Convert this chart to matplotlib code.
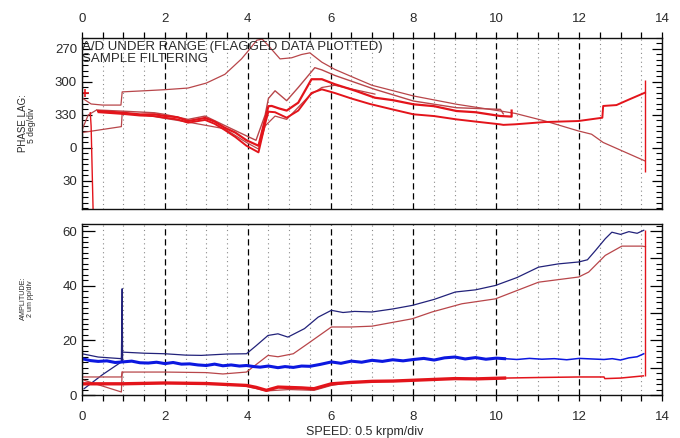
import matplotlib
matplotlib.use("Agg")
import matplotlib.pyplot as plt
from matplotlib.ticker import MultipleLocator, FixedLocator

plt.rcParams['font.family'] = ['Liberation Sans', 'DejaVu Sans']

# ---------------- phase lag (deg, continuous; 360 shown as 0) ----------------
up_speed = [0.02, 0.22, 0.5, 0.94, 0.97, 1.5, 2.0, 2.56, 3.0, 3.45, 3.85, 4.05, 4.22,
            4.35, 4.5, 4.78, 5.06, 5.3, 5.5, 5.79, 6.1, 6.5, 7.0, 8.0, 9.05, 10.1,
            10.45, 11.18, 11.98, 12.3, 12.58, 13.0, 13.59]
up_phase = [315, 320, 321, 321, 309, 308, 307, 305.5, 301, 293, 279, 270, 262,
            261, 267, 279, 278, 275, 273.5, 282, 288.5, 295, 303, 312.7, 320.3, 326.4,
            328.5, 335.5, 344.5, 347.5, 355, 362, 371.8]

ctop_speed = [0.36, 0.97, 1.75, 2.0, 2.56, 2.97, 3.44, 3.97, 4.2, 4.42, 4.5, 4.66, 4.94,
              5.22, 5.62, 5.79, 6.1, 7.07, 8.0, 9.04, 10.1, 10.17]
ctop_phase = [325.5, 326.5, 328, 329.5, 334, 331, 339.5, 349, 353, 330, 315, 308, 317,
              305, 287, 289, 294, 306.7, 317.3, 323.4, 324.9, 329]

cmid_speed = [0.39, 0.97, 1.4, 1.75, 2.0, 2.3, 2.56, 2.97, 3.2, 3.44, 3.7, 3.97, 4.26,
              4.42, 4.5, 4.58, 4.75, 4.94, 5.22, 5.54, 5.79, 6.1, 6.6, 7.07, 7.5, 8.0,
              8.5, 9.04, 9.5, 10.09, 10.37, 10.37]
cmid_phase = [326.4, 327.9, 329.5, 329.4, 330.9, 332, 335.5, 332.7, 336, 341.5, 346, 353, 358,
              333.6, 322, 321.8, 324, 326, 318.8, 297.5, 297.5, 302, 308, 314.3, 316.5, 320.3,
              322, 326.4, 327.5, 330.9, 331.5, 326]

clow_speed = [0.4, 0.97, 1.4, 1.75, 2.0, 2.3, 2.56, 2.97, 3.2, 3.44, 3.7, 3.97, 4.26,
              4.42, 4.5, 4.66, 4.94, 5.22, 5.54, 5.79, 6.1, 6.5, 6.95, 7.5, 8.0, 8.5,
              9.04, 9.5, 10.09, 10.17, 10.45, 11.18, 11.98, 12.56, 12.58, 12.9, 13.2, 13.59]
clow_phase = [327.5, 329, 330.5, 331, 332.5, 334, 337, 334.5, 338, 343.5, 350, 358, 364,
              338, 327, 327.5, 332.5, 326, 310, 306.7, 310, 315, 320, 325, 329.4, 331,
              334, 336, 338.5, 339, 338.5, 336.4, 335.5, 332.5, 321.8, 321, 316, 309.7]

thin_low_speed = [0.0, 0.95, 0.97, 1.5, 2.56, 3.44, 3.97, 4.26, 4.42, 4.66, 4.94, 5.5, 5.79, 6.1, 7.07]
thin_low_phase = [346, 340.6, 328, 330, 336.5, 342.5, 355, 361, 340, 331, 334, 312, 305, 303, 311]

rise_speed = [0.0, 0.15, 0.35]
rise_phase = [343.6, 330, 325.5]

drop_speed = [0.2, 0.22, 0.27]
drop_phase = [328, 340, 420]

trip_speed = 13.6
trip_phase = [298, 381.5]
trip_amp = [7.0, 60.5]

# ---------------- amplitude (um pp) ----------------
nav_speed = [0.0, 0.39, 0.95, 0.97, 1.5, 2.0, 2.5, 2.88, 3.5, 3.97, 4.2, 4.49, 4.73, 4.97,
             5.37, 5.7, 6.02, 6.3, 6.58, 7.0, 7.5, 7.97, 8.5, 9.01, 9.5, 9.98, 10.5, 11.02,
             11.5, 11.99, 12.2, 12.4, 12.63, 12.79, 13.0, 13.2, 13.4, 13.56]
nav_amp = [15.1, 13.9, 13.3, 15.7, 15.3, 15.1, 14.6, 14.5, 15.0, 15.1, 18.0, 21.8, 22.4, 21.2,
           24.3, 28.5, 31.0, 30.2, 30.6, 30.4, 31.5, 32.8, 35.0, 37.7, 38.5, 40.1, 43.0, 46.8,
           48.0, 48.7, 49.5, 53.0, 57.2, 59.6, 58.8, 59.8, 59.2, 60.3]

brn_speed = [0.0, 0.95, 0.97, 2.0, 3.0, 3.4, 3.97, 4.49, 4.73, 5.1, 5.45, 6.02, 6.5, 7.0,
             7.97, 8.45, 9.17, 9.98, 11.02, 11.99, 12.23, 12.63, 13.03, 13.52, 13.6]
brn_amp = [6.6, 6.6, 8.4, 8.4, 8.2, 7.7, 8.4, 14.5, 14.0, 15.1, 18.8, 24.9, 24.9, 25.2,
           27.9, 30.4, 33.4, 35.2, 41.3, 43.2, 45.0, 51.1, 54.5, 54.5, 54.3]

fall_speed = [0.05, 0.95, 0.97]
fall_amp = [5.4, 1.1, 8.4]

climb_speed = [0.05, 0.5, 0.95, 0.97, 0.98]
climb_amp = [2.3, 7.5, 12.1, 38.9, 12.1]

brn_low_speed = [3.9, 4.45, 5.0, 5.6, 6.02, 6.4]
brn_low_amp = [3.4, 1.5, 2.0, 1.7, 3.5, 4.4]

blue_speed = [0.0, 0.2, 0.39, 0.6, 0.8, 0.97, 1.2, 1.4, 1.6, 1.8, 2.0, 2.2, 2.4, 2.6, 2.8,
              3.0, 3.2, 3.4, 3.6, 3.8, 3.97, 4.15, 4.3, 4.5, 4.73, 4.9, 5.1, 5.3, 5.5, 5.75,
              6.02, 6.25, 6.5, 6.75, 7.0, 7.25, 7.5, 7.75, 8.0, 8.25, 8.5, 8.75, 9.0, 9.25,
              9.5, 9.75, 10.0, 10.2]
blue_amp = [13.3, 12.6, 12.3, 12.5, 11.9, 12.1, 12.4, 11.8, 11.7, 12.0, 11.5, 11.9, 11.3, 11.4, 11.0,
            10.8, 11.3, 10.7, 11.0, 10.6, 10.8, 10.4, 10.2, 10.6, 10.0, 10.4, 10.1, 10.6, 10.5, 11.2,
            12.1, 11.6, 12.4, 12.0, 12.7, 12.3, 12.9, 12.5, 13.0, 13.4, 12.8, 13.6, 13.9, 13.2,
            13.7, 13.1, 13.5, 13.3]
blue_tail_speed = [10.2, 10.5, 10.8, 11.1, 11.4, 11.7, 12.0, 12.3, 12.6, 12.8, 13.0, 13.2, 13.4, 13.56]
blue_tail_amp = [13.3, 13.0, 13.4, 13.1, 13.3, 12.9, 13.4, 13.2, 13.0, 13.3, 12.8, 13.6, 14.0, 15.1]

red_speed = [0.0, 0.97, 2.0, 3.0, 3.97, 4.2, 4.45, 4.73, 5.3, 5.6, 6.02, 6.5, 7.0, 7.5,
             8.0, 8.5, 9.0, 9.5, 10.2]
red_amp = [4.1, 4.1, 4.4, 4.2, 3.5, 2.8, 1.7, 2.9, 2.6, 2.3, 4.1, 4.6, 5.0, 5.1,
           5.4, 5.7, 6.0, 5.9, 6.2]
red_tail_speed = [10.2, 11.0, 12.0, 12.6, 12.62, 13.0, 13.55]
red_tail_amp = [6.2, 6.4, 6.6, 6.6, 6.0, 6.2, 7.0]

phase_ticks = [270, 300, 330, 360, 390]
phase_labels = ['270', '300', '330', '0', '30']
amp_ticks = [0, 20, 40, 60]
speed_ticks = [0, 2, 4, 6, 8, 10, 12, 14]

RED = '#e3141b'
BRN = '#b8464a'
NAVY = '#22227a'
BLUE = '#0c18e0'
TXT = '#2a2a2a'

W, H = 680, 438
fig = plt.figure(figsize=(W / 100, H / 100), dpi=100)
ax1 = fig.add_axes([82 / W, 1 - 209 / H, 580 / W, 171 / H])
ax2 = fig.add_axes([82 / W, 1 - 395 / H, 580 / W, 171 / H])

for ax in (ax1, ax2):
    ax.set_xlim(0, 14)
    ax.xaxis.set_major_locator(FixedLocator(speed_ticks))
    ax.xaxis.set_minor_locator(MultipleLocator(0.5))
    ax.grid(True, which='major', axis='x', color='black', linestyle=(0, (5, 3)), linewidth=0.9)
    ax.grid(True, which='minor', axis='x', color='#8a8a8a', linestyle=(0, (1, 3)), linewidth=0.8)
    for s in ax.spines.values():
        s.set_color('#111111')
        s.set_linewidth(1.0)
    ax.set_axisbelow(True)

# phase panel
ax1.set_ylim(415.5, 260)
ax1.yaxis.set_major_locator(FixedLocator(phase_ticks))
ax1.set_yticklabels(phase_labels)
ax1.yaxis.set_minor_locator(MultipleLocator(5))
ax1.xaxis.tick_top()
ax1.tick_params(axis='x', which='both', direction='out', top=True, bottom=False,
                labeltop=True, labelbottom=False, length=4.3, width=0.9,
                pad=5, labelsize=9.5, labelcolor=TXT)
ax1.tick_params(axis='y', which='major', direction='in', left=True, right=True,
                length=7, width=0.9, pad=3.6, labelsize=9.5, labelcolor=TXT)
ax1.tick_params(axis='y', which='minor', direction='in', left=True, right=True,
                length=4, width=0.8)

ax1.plot(up_speed, up_phase, color=BRN, lw=0.9)
ax1.plot(thin_low_speed, thin_low_phase, color=BRN, lw=0.9)
ax1.plot(rise_speed, rise_phase, color=BRN, lw=0.9)
ax1.plot(drop_speed, drop_phase, color=RED, lw=1.0)
ax1.plot(ctop_speed, ctop_phase, color=BRN, lw=1.0)
ax1.plot(cmid_speed, cmid_phase, color=RED, lw=1.6)
ax1.plot(clow_speed, clow_phase, color=RED, lw=1.4)
ax1.vlines(trip_speed, trip_phase[0], trip_phase[1], color=RED, lw=1.0)
ax1.plot([0.07], [309.7], marker='+', color=RED, ms=6, mew=1.2)

ax1.text(0.0, 0.985, 'A/D UNDER RANGE (FLAGGED DATA PLOTTED)\nSAMPLE FILTERING',
         transform=ax1.transAxes, ha='left', va='top', fontsize=9.5, color=TXT,
         linespacing=1.0)

# amplitude panel
ax2.set_ylim(0, 62.6)
ax2.yaxis.set_major_locator(FixedLocator(amp_ticks))
ax2.yaxis.set_minor_locator(MultipleLocator(2))
ax2.tick_params(axis='x', which='both', direction='out', bottom=True, top=False,
                length=4.3, width=0.9, pad=7, labelsize=9.5, labelcolor=TXT)
ax2.tick_params(axis='y', which='major', direction='in', left=True, right=False,
                length=9, width=0.9, pad=3.6, labelsize=9.5, labelcolor=TXT)
ax2.tick_params(axis='y', which='minor', direction='in', left=True, right=False,
                length=4.5, width=0.8)
# right-hand scale: long ticks every 10, short every 2
axr = ax2.twinx()
axr.set_ylim(ax2.get_ylim())
axr.yaxis.set_major_locator(MultipleLocator(10))
axr.yaxis.set_minor_locator(MultipleLocator(2))
axr.tick_params(axis='y', which='major', direction='in', length=9, width=0.9, labelright=False)
axr.tick_params(axis='y', which='minor', direction='in', length=4.5, width=0.8)
for s in axr.spines.values():
    s.set_visible(False)

ax2.plot(nav_speed, nav_amp, color=NAVY, lw=0.9)
ax2.plot(climb_speed, climb_amp, color=NAVY, lw=0.9)
ax2.plot(brn_speed, brn_amp, color=BRN, lw=0.9)
ax2.plot(fall_speed, fall_amp, color=BRN, lw=0.9)
ax2.plot(brn_low_speed, brn_low_amp, color=BRN, lw=0.9)
ax2.plot(blue_speed, blue_amp, color=BLUE, lw=2.2)
ax2.plot(blue_tail_speed, blue_tail_amp, color=BLUE, lw=1.1)
ax2.plot(red_speed, red_amp, color=RED, lw=2.4)
ax2.plot(red_tail_speed, red_tail_amp, color=RED, lw=1.1)
ax2.vlines(trip_speed, trip_amp[0], trip_amp[1], color=RED, lw=1.0)

# axis captions
fig.text(23 / W, 1 - 123.5 / H, 'PHASE LAG:', rotation=90, ha='center', va='center',
         fontsize=7, color=TXT)
fig.text(31 / W, 1 - 125.5 / H, '5 deg/div', rotation=90, ha='center', va='center',
         fontsize=6.2, color=TXT)
fig.text(23 / W, 1 - 298 / H, 'AMPLITUDE:', rotation=90, ha='center', va='center',
         fontsize=5.2, color=TXT)
fig.text(30.5 / W, 1 - 299 / H, '2 um pp/div', rotation=90, ha='center', va='center',
         fontsize=5.0, color=TXT)
fig.text(365 / W, 1 - 432 / H, 'SPEED: 0.5 krpm/div', ha='center', va='center',
         fontsize=9, color=TXT)

fig.savefig('out.png', dpi=100)
